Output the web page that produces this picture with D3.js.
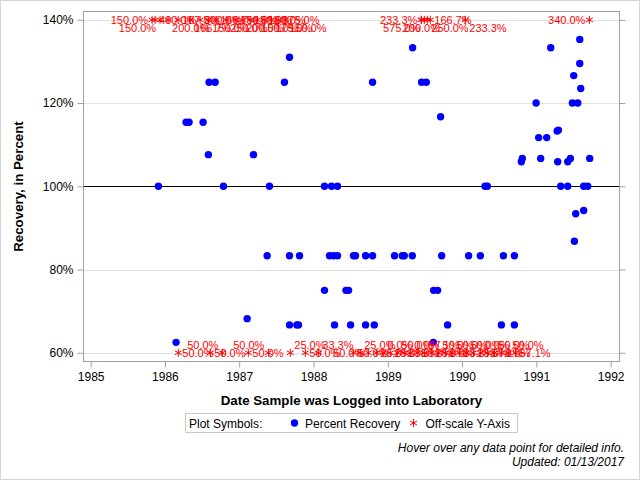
<!DOCTYPE html>
<html>
<head>
<meta charset="utf-8">
<script src="https://cdn.jsdelivr.net/npm/d3@7"></script>
<style>
  body { margin: 0; background: #fff; }
  svg { display: block; font-family: "Liberation Sans", Arial, sans-serif; }
</style>
</head>
<body>
<div id="chart"></div>
<script>
// Percent recovery points (decimal year, percent)
const recDates = [
  1985.912, 1986.150, 1986.285, 1986.325, 1986.514, 1986.585, 1986.595, 1986.676, 1986.788,
  1987.107, 1987.192, 1987.376, 1987.407, 1987.609, 1987.677, 1987.677, 1987.677, 1987.776,
  1987.798, 1987.812, 1988.148, 1988.243, 1988.323, 1988.148, 1988.216, 1988.270, 1988.323,
  1988.283, 1988.437, 1988.472, 1988.499, 1988.539, 1988.566, 1988.701, 1988.701, 1988.795,
  1988.795, 1988.818, 1989.091, 1989.195, 1989.222, 1989.330, 1989.334, 1989.455, 1989.518,
  1989.613, 1989.617, 1989.671, 1989.711, 1989.725, 1989.805, 1990.088, 1990.246, 1990.309,
  1990.340, 1990.529, 1990.556, 1990.704, 1990.704, 1990.798, 1990.811, 1990.996, 1991.031,
  1991.058, 1991.139, 1991.193, 1991.280, 1991.287, 1991.297, 1991.328, 1991.422, 1991.422,
  1991.458, 1991.485, 1991.503, 1991.512, 1991.530, 1991.557, 1991.584, 1991.584, 1991.597,
  1991.637, 1991.637, 1991.691, 1991.718
];
const recValues = [
  100, 62.5, 115.4, 115.4, 115.4, 107.6, 125, 125, 100,
  68.2, 107.6, 83.3, 100, 125, 131.0, 83.3, 66.7, 66.7,
  66.7, 83.3, 100, 100, 100, 75, 83.3, 83.3, 83.3,
  66.7, 75, 75, 66.7, 83.3, 83.3, 83.3, 66.7, 83.3,
  125, 66.7, 83.3, 83.3, 83.3, 83.3, 133.3, 125, 125,
  62.5, 75, 75, 116.7, 83.3, 66.7, 83.3, 83.3, 100,
  100, 66.7, 83.3, 83.3, 66.7, 105.9, 106.7, 120, 111.7,
  106.7, 111.7, 133.3, 113.3, 105.9, 113.5, 100, 105.9, 100,
  106.7, 120, 126.6, 86.8, 93.4, 120, 135.3, 129.5, 123.5,
  100, 94.2, 100, 106.7
];

// Off-scale points above 140% (drawn as asterisks on the top edge)
const highDates = [
  1985.868, 1985.827, 1985.935, 1986.043, 1986.177, 1986.339, 1986.474, 1986.582, 1986.690,
  1986.824, 1986.959, 1987.040, 1987.147, 1987.242, 1987.337, 1987.431, 1987.525, 1987.620,
  1989.572, 1989.451, 1989.492, 1989.532, 1990.044, 1989.451, 1991.714
];
const highValues = [
  400, 150, 150, 200, 187.5, 166.7, 300, 150, 166.7,
  250, 150, 200, 150, 150, 150, 175, 375, 150,
  166.7, 233.3, 575, 250, 233.3, 200, 340
];

// Off-scale points below 60% (drawn as asterisks on the bottom edge)
const lowDates = [
  1986.180, 1986.611, 1986.773, 1987.123, 1987.392, 1987.890, 1987.688, 1988.065, 1988.535,
  1988.629, 1988.737, 1988.845, 1988.939, 1989.033, 1989.128, 1989.222, 1989.303, 1989.397,
  1989.492, 1989.586, 1989.680, 1989.775, 1989.869, 1989.963, 1990.058, 1990.152, 1990.246,
  1990.341, 1990.435, 1990.529, 1990.623, 1990.718
];
const lowValues = [
  50, 50, 50, 50, 50, 50, 25, 33.3, 50,
  25, 50, 25, 0, 25, 50, 33.3, 0, 50,
  57.1, 25, 50, 0, 50, 33.3, 50, 25, 0,
  57.1, 50, 0, 50, 57.1
];

const yearTicks = [1985, 1986, 1987, 1988, 1989, 1990, 1991, 1992];
const pctTicks = [60, 80, 100, 120, 140];

// Set up dimensions
const width = 640;
const height = 480;
const frame = { left: 83.5, right: 619.5, top: 11.5, bottom: 361.5 };
const axisColor = "#a0a0a0";

const svg = d3
  .select("#chart")
  .append("svg")
  .attr("width", width)
  .attr("height", height);

// Outer border
svg
  .append("rect")
  .attr("x", 0.5)
  .attr("y", 0.5)
  .attr("width", width - 1)
  .attr("height", height - 1)
  .attr("fill", "white")
  .attr("stroke", "#d4d4d4");

// Scales
const xScale = d3.scaleLinear().domain([1984.904, 1992.119]).range([frame.left, frame.right]);
const yScale = d3.scaleLinear().domain([57.9, 142.0]).range([frame.bottom, frame.top]);
const yMin = 60;
const yMax = 140;

// Horizontal grid lines
svg
  .append("g")
  .selectAll("line")
  .data(pctTicks.filter((d) => d !== 100))
  .enter()
  .append("line")
  .attr("x1", frame.left)
  .attr("x2", frame.right)
  .attr("y1", (d) => Math.round(yScale(d)) + 0.5)
  .attr("y2", (d) => Math.round(yScale(d)) + 0.5)
  .attr("stroke", "#e1e1e1");

// Reference line at 100%
svg
  .append("line")
  .attr("x1", frame.left)
  .attr("x2", frame.right)
  .attr("y1", Math.round(yScale(100)) + 0.5)
  .attr("y2", Math.round(yScale(100)) + 0.5)
  .attr("stroke", "black");

// Axes
function styleAxis(g) {
  g.select(".domain").remove();
  g.selectAll(".tick line").attr("stroke", axisColor);
  g.selectAll("text")
    .attr("fill", "black")
    .style("font-family", "'Liberation Sans', Arial, sans-serif")
    .style("font-size", "12px");
}

svg
  .append("g")
  .attr("transform", `translate(0,${frame.bottom})`)
  .call(d3.axisBottom(xScale).tickValues(yearTicks).tickFormat(d3.format("d")).tickSize(6).tickPadding(5))
  .call(styleAxis);

svg
  .append("g")
  .attr("transform", `translate(${frame.left},0)`)
  .call(d3.axisLeft(yScale).tickValues(pctTicks).tickFormat((d) => d + "%").tickSize(6).tickPadding(4))
  .call(styleAxis);

svg
  .append("g")
  .attr("transform", `translate(${frame.right},0)`)
  .call(d3.axisRight(yScale).tickValues(pctTicks).tickFormat("").tickSize(6))
  .call(styleAxis);

// Plot frame
svg
  .append("rect")
  .attr("x", frame.left)
  .attr("y", frame.top)
  .attr("width", frame.right - frame.left)
  .attr("height", frame.bottom - frame.top)
  .attr("fill", "none")
  .attr("stroke", axisColor);

// Axis titles
svg
  .append("text")
  .attr("x", (frame.left + frame.right) / 2)
  .attr("y", 405)
  .attr("text-anchor", "middle")
  .attr("font-weight", "bold")
  .attr("font-size", "13.3px")
  .text("Date Sample was Logged into Laboratory");

svg
  .append("text")
  .attr("transform", `translate(23,${(frame.top + frame.bottom) / 2}) rotate(-90)`)
  .attr("text-anchor", "middle")
  .attr("font-weight", "bold")
  .attr("font-size", "13.3px")
  .text("Recovery, in Percent");

// Blue recovery points
const recData = recDates.map((d, i) => ({ date: d, value: recValues[i] }));
svg
  .append("g")
  .selectAll("circle")
  .data(recData)
  .enter()
  .append("circle")
  .attr("cx", (d) => xScale(d.date))
  .attr("cy", (d) => yScale(d.value))
  .attr("r", 3.7)
  .attr("fill", "#0000ff");

// Off-scale asterisks, pinned to the edge they fall past
const asterisk = d3.symbol().type(d3.symbolAsterisk).size(45);
const offData = highDates
  .map((d, i) => ({ date: d, value: highValues[i], top: true }))
  .concat(lowDates.map((d, i) => ({ date: d, value: lowValues[i], top: false })));
offData.forEach((d) => {
  d.mx = xScale(d.date);
  d.my = yScale(d.top ? yMax : yMin);
});

svg
  .append("g")
  .selectAll("path")
  .data(offData)
  .enter()
  .append("path")
  .attr("d", asterisk)
  .attr("transform", (d) => `translate(${d.mx},${d.my})`)
  .attr("fill", "none")
  .attr("stroke", "red")
  .attr("stroke-width", 1);

// Function to get text width
function getTextWidth(text, font) {
  const canvas = getTextWidth.canvas || (getTextWidth.canvas = document.createElement("canvas"));
  const context = canvas.getContext("2d");
  context.font = font;
  return context.measureText(text).width;
}

// Place data labels beside the asterisks, dodging the labels already placed
const labelFont = "11px 'Liberation Sans'";
const placed = [];

function overlap(a, b) {
  const w = Math.min(a.x1, b.x1) - Math.max(a.x0, b.x0);
  const h = Math.min(a.y1, b.y1) - Math.max(a.y0, b.y0);
  return w > 0 && h > 0 ? w * h : 0;
}

offData.forEach((d) => {
  d.label = d3.format(".1f")(d.value) + "%";
  const w = getTextWidth(d.label, labelFont);
  const side = d.my + 4;
  const inner = side + (d.top ? 8 : -8);
  const candidates = [
    { x: d.mx + 4, y: side },
    { x: d.mx - 4 - w, y: side },
    { x: d.mx - 4 - w, y: inner },
    { x: d.mx + 4, y: inner },
    { x: d.mx - w / 2, y: inner },
  ].filter((c) => c.x >= frame.left + 1 && c.x + w <= frame.right - 1);

  let best = null;
  let bestScore = Infinity;
  candidates.forEach((c) => {
    const box = { x0: c.x, x1: c.x + w, y0: c.y - 8, y1: c.y };
    const score = d3.sum(placed, (p) => overlap(box, p));
    if (score < bestScore - 0.01) {
      bestScore = score;
      best = { c, box };
    }
  });
  d.lx = best.c.x;
  d.ly = best.c.y;
  placed.push(best.box);
});

svg
  .append("g")
  .selectAll("text")
  .data(offData)
  .enter()
  .append("text")
  .attr("x", (d) => d.lx)
  .attr("y", (d) => d.ly)
  .attr("fill", "red")
  .attr("font-size", "11px")
  .text((d) => d.label);

// Legend
const legend = svg.append("g");
legend
  .append("rect")
  .attr("x", 185.5)
  .attr("y", 413.5)
  .attr("width", 332)
  .attr("height", 19)
  .attr("fill", "white")
  .attr("stroke", "#c8c8c8");
legend
  .append("text")
  .attr("x", 189)
  .attr("y", 427.5)
  .attr("font-size", "12px")
  .text("Plot Symbols:");
legend
  .append("circle")
  .attr("cx", 294.5)
  .attr("cy", 423)
  .attr("r", 3.7)
  .attr("fill", "#0000ff");
legend
  .append("text")
  .attr("x", 305)
  .attr("y", 427.5)
  .attr("font-size", "12px")
  .text("Percent Recovery");
legend
  .append("path")
  .attr("d", asterisk)
  .attr("transform", "translate(413.5,423)")
  .attr("fill", "none")
  .attr("stroke", "red");
legend
  .append("text")
  .attr("x", 425.5)
  .attr("y", 427.5)
  .attr("font-size", "12px")
  .text("Off-scale Y-Axis");

// Footnotes
svg
  .append("text")
  .attr("x", 624)
  .attr("y", 451.5)
  .attr("text-anchor", "end")
  .attr("font-style", "italic")
  .attr("font-size", "12px")
  .text("Hover over any data point for detailed info.");
svg
  .append("text")
  .attr("x", 624)
  .attr("y", 465.5)
  .attr("text-anchor", "end")
  .attr("font-style", "italic")
  .attr("font-size", "12px")
  .text("Updated: 01/13/2017");
</script>
</body>
</html>
